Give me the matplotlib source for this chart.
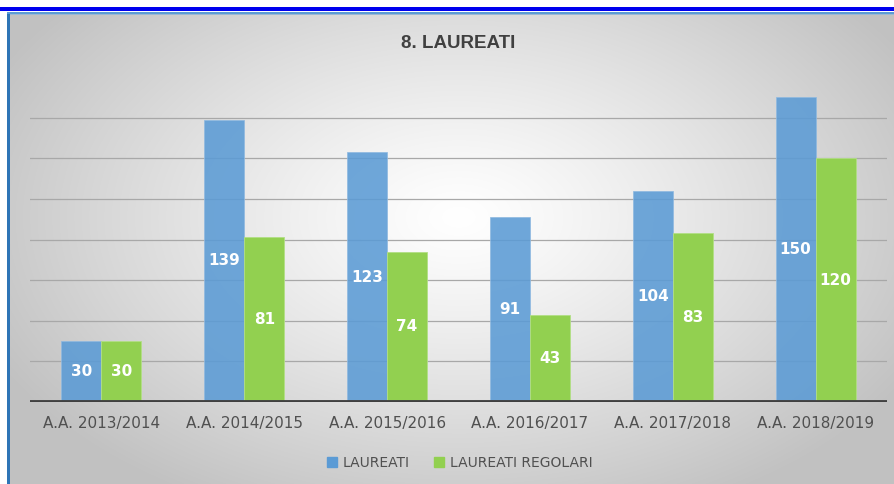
import numpy as np
import matplotlib
matplotlib.use("Agg")
import matplotlib.pyplot as plt
from matplotlib.patches import Rectangle
from matplotlib.lines import Line2D

categories = ["A.A. 2013/2014", "A.A. 2014/2015", "A.A. 2015/2016",
              "A.A. 2016/2017", "A.A. 2017/2018", "A.A. 2018/2019"]
laureati = [30, 139, 123, 91, 104, 150]
laureati_regolari = [30, 81, 74, 43, 83, 120]
series_names = ["LAUREATI", "LAUREATI REGOLARI"]
title = "8. LAUREATI"

BLUE = "#5b9bd5"
GREEN = "#92d050"
TXT = "#505050"

W, H = 894, 484
fig = plt.figure(figsize=(W / 100, H / 100), dpi=100)

# background with radial gradient
bg = fig.add_axes([0, 0, 1, 1], zorder=0)
bg.set_xlim(0, W)
bg.set_ylim(H, 0)
bg.axis("off")
yy, xx = np.mgrid[0:H, 0:W]
cx, cy = 455, 210
r = np.sqrt(((xx - cx) / 520.0) ** 2 + ((yy - cy) / 330.0) ** 2)
r = np.clip(r, 0, 1)
val = 1.0 - 0.24 * r ** 1.2
img = np.dstack([val, val, val])
bg.imshow(img, extent=(7, W, H, 12), aspect="auto", zorder=0)
bg.add_patch(Rectangle((0, 0), W, 12, facecolor="white", edgecolor="none", zorder=1))
bg.add_patch(Rectangle((0, 0), 7, H, facecolor="white", edgecolor="none", zorder=1))
bg.add_patch(Rectangle((0, 6.5), W, 4.5, facecolor="#0000ee", edgecolor="none", zorder=2))
bg.add_patch(Rectangle((7, 12), 3, H - 12, facecolor="#2e75b6", edgecolor="none", zorder=2))
bg.add_patch(Rectangle((7, 12), W - 7, 2, facecolor="#5b9bd5", edgecolor="none", zorder=2))
bg.add_patch(Rectangle((10, 14), W - 10, 1, facecolor="#9db8d4", edgecolor="none", zorder=2))

# main axes
ax = fig.add_axes([30 / W, 82 / H, 857 / W, 325 / H], zorder=1)
ax.patch.set_alpha(0)
ax.set_ylim(0, 160)
n = len(categories)
x = np.arange(n)
ax.set_xlim(-0.5, n - 0.5)
bw = 0.28
for g in range(20, 160, 20):
    ax.axhline(g, color="#a8a8a8", lw=0.9, zorder=1)
b1 = ax.bar(x - bw / 2, laureati, bw, color=BLUE, alpha=0.88, zorder=2,
            edgecolor="#8fb9e0", linewidth=0.6, label=series_names[0])
b2 = ax.bar(x + bw / 2, laureati_regolari, bw, color=GREEN, zorder=2,
            edgecolor="#b2df85", linewidth=0.6, label=series_names[1])
for bars, vals in ((b1, laureati), (b2, laureati_regolari)):
    for rect, v in zip(bars, vals):
        ax.text(rect.get_x() + rect.get_width() / 2, v / 2, str(v),
                ha="center", va="center", color="white", fontsize=11,
                fontweight="bold", zorder=3)
ax.axhline(0, color="#404040", lw=3.5, zorder=4)
for s in ax.spines.values():
    s.set_visible(False)
ax.set_yticks([])
ax.set_xticks(x)
ax.set_xticklabels(categories, fontsize=11, color=TXT)
ax.tick_params(axis="x", length=0, pad=10)

fig.text(458 / W, 1 - 43 / H, title, ha="center", va="center",
         fontsize=13.5, fontweight="bold", color="#404040",
         family=["Liberation Sans", "DejaVu Sans"])

handles = [Line2D([], [], marker="s", ls="", color=BLUE, markersize=7),
           Line2D([], [], marker="s", ls="", color=GREEN, markersize=7)]
leg = fig.legend(handles, series_names, loc="center", bbox_to_anchor=(459 / W, 1 - 463 / H),
                 ncol=2, frameon=False, fontsize=10, handletextpad=0.3,
                 columnspacing=1.6, handlelength=1.0)
for t in leg.get_texts():
    t.set_color(TXT)

fig.savefig("out.png", dpi=100)
